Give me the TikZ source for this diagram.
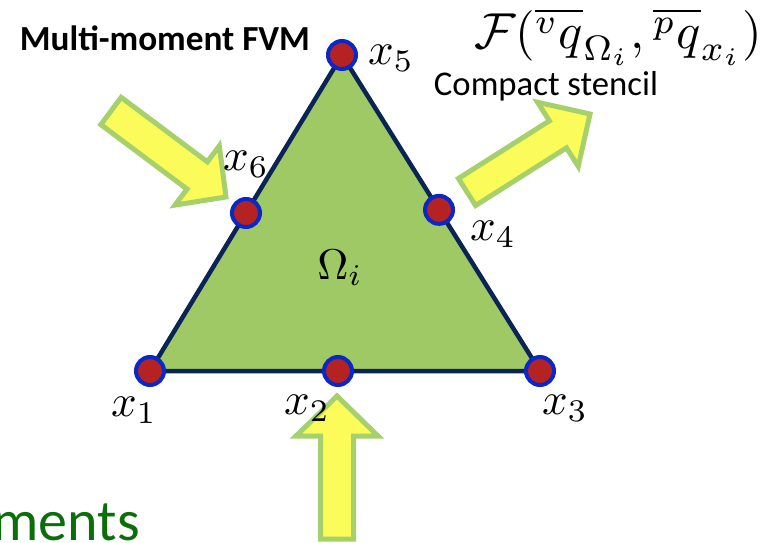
\documentclass[tikz,border=0pt]{standalone}
\usepackage{fontspec}
\newfontfamily\carlito{Carlito}
\usetikzlibrary{calc}
\definecolor{trifill}{HTML}{9FC965}
\definecolor{triedge}{HTML}{0C2356}
\definecolor{dotred}{HTML}{B52222}
\definecolor{dotblue}{HTML}{0A28C8}
\definecolor{arrfill}{HTML}{FBFB5A}
\definecolor{arredge}{HTML}{A6D06C}
\definecolor{txtgreen}{HTML}{0B6E0B}
\tikzset{
  bigarrow/.style={fill=arrfill, draw=arredge, line width=5pt, line join=miter},
  tri/.style={fill=trifill, draw=triedge, line width=4.5pt, line join=round},
  ptdot/.style={circle, fill=dotred, draw=dotblue, line width=4pt, minimum size=28pt, inner sep=0pt},
  lbl/.style={inner sep=0pt, scale=4.5},
}
\newcommand\fatarrow[5]{%
  \coordinate (hb) at ($(#2)!#5!(#1)$);
  \filldraw[bigarrow] ($(#1)!#3!90:(#2)$) -- ($(hb)!#3!90:(#2)$) -- ($(hb)!#4!90:(#2)$) -- (#2)
    -- ($(hb)!#4!-90:(#2)$) -- ($(hb)!#3!-90:(#2)$) -- ($(#1)!#3!-90:(#2)$) -- cycle;}
\begin{document}
\begin{tikzpicture}[x=1pt, y=-1pt]
\useasboundingbox (0,0) rectangle (766,543);
\clip (0,0) rectangle (766,543);
% arrows
\coordinate (a1tail) at (111,111);
\coordinate (a1tip) at (226,197);
\coordinate (a2tail) at (467,192);
\coordinate (a2tip) at (590,114);
\coordinate (a3tail) at (337,539);
\coordinate (a3tip) at (337,396);
\fatarrow{a1tail}{a1tip}{17pt}{37pt}{36pt}
\fatarrow{a2tail}{a2tip}{16pt}{38pt}{38pt}
\fatarrow{a3tail}{a3tip}{16.5pt}{41pt}{40pt}
% triangle
\coordinate (v1) at (150,371);
\coordinate (v3) at (540,371);
\coordinate (v5) at (342,55);
\draw[tri] (v1) -- (v3) -- (v5) -- cycle;
\node[ptdot] (p1) at (v1) {};
\node[ptdot] (p2) at (338,371) {};
\node[ptdot] (p3) at (v3) {};
\node[ptdot] (p4) at ($(v3)!0.51!(v5)$) {};
\node[ptdot] (p5) at (v5) {};
\node[ptdot] (p6) at ($(v1)!0.5!(v5)$) {};
% labels
\node[lbl] (l1) at (134,410) {$x_1$};
\node[lbl] (l2) at (307,408) {$x_2$};
\node[lbl] (l3) at (565,408) {$x_3$};
\node[lbl] (l4) at (493,234) {$x_4$};
\node[lbl] (l5) at (391,58) {$x_5$};
\node[lbl] (l6) at (246,164) {$x_6$};
\node[inner sep=0pt, scale=4.3] (om) at (340,268) {$\Omega_i$};
% texts
\node[inner sep=0pt] (title) at (165,38) {\resizebox{290pt}{!}{\carlito\bfseries Multi-moment FVM}};
\node[inner sep=0pt] (stencil) at (546,86) {\resizebox{224pt}{!}{\carlito Compact stencil}};
\node[inner sep=0pt] (flux) at (618,37) {\resizebox{288pt}{!}{$\mathcal{F}(\overline{{}^v q}_{\Omega_i},\overline{{}^p q}_{x_i})$}};
\node[inner sep=0pt, anchor=base east, text=txtgreen, font=\fontsize{58}{58}\carlito] (ments) at (140,540) {ments};
\end{tikzpicture}
\end{document}
